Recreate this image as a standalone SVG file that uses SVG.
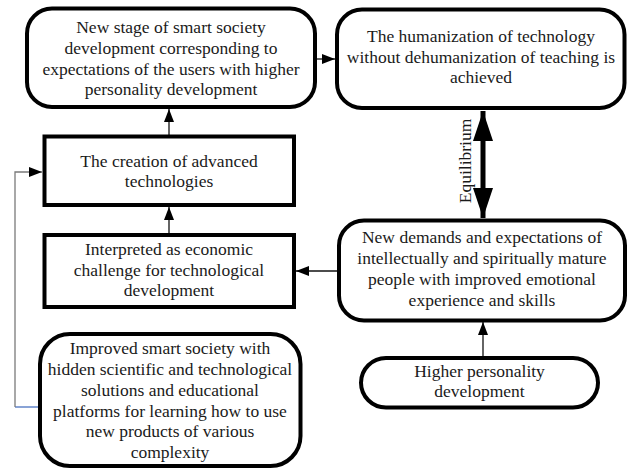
<svg xmlns="http://www.w3.org/2000/svg" width="628" height="470" viewBox="0 0 628 470">
  <style>
    .box { fill: #ffffff; stroke: #000000; stroke-width: 4; }
    text { font-family: 'Liberation Serif', 'Times New Roman', Times, 'DejaVu Serif', serif; }
    .lbl { font-size: 17.5px; fill: #1a1a1a; text-anchor: middle; }
    .conn { fill: none; stroke: #111111; stroke-width: 1.3; }
    .feed { fill: none; stroke: #7a7a7a; stroke-width: 1.3; }
    .feedb { fill: none; stroke: #4a72c0; stroke-width: 1.3; }
    .eq { fill: none; stroke: #000000; stroke-width: 5; }
  </style>
  <defs>
    <marker id="arr" markerUnits="userSpaceOnUse" markerWidth="13" markerHeight="10" refX="13" refY="5" orient="auto">
      <path d="M0,0 L13,5 L0,10 z" fill="#000000"/>
    </marker>
    <marker id="bigArr" markerUnits="userSpaceOnUse" markerWidth="30" markerHeight="20" refX="30" refY="10" orient="auto-start-reverse">
      <path d="M0,0 L30,10 L0,20 z" fill="#000000"/>
    </marker>
  </defs>

  <rect width="628" height="470" fill="#ffffff"/>

  <!-- connectors -->
  <g id="connectors">
    <line class="conn" x1="315" y1="59" x2="335" y2="59" marker-end="url(#arr)"/>
    <line class="conn" x1="169" y1="135" x2="169" y2="109" marker-end="url(#arr)"/>
    <line class="conn" x1="169" y1="233" x2="169" y2="207" marker-end="url(#arr)"/>
    <line class="conn" x1="338" y1="271" x2="296" y2="271" marker-end="url(#arr)"/>
    <line class="conn" x1="483" y1="356" x2="483" y2="322" marker-end="url(#arr)"/>
    <path class="feedb" d="M38,407 L15,407"/>
    <path class="feed" d="M15,407 L15,172 L42,172" marker-end="url(#arr)"/>
    <line class="eq" x1="483" y1="111" x2="483" y2="218" marker-start="url(#bigArr)" marker-end="url(#bigArr)"/>
    <text class="lbl" style="font-family: 'Liberation Serif', serif" transform="translate(471,161) rotate(-90)">Equilibrium</text>
  </g>

  <!-- nodes -->
  <g id="node-new-stage">
    <rect class="box" x="27" y="8.5" width="288" height="98.5" rx="25" ry="25"/>
    <text class="lbl" x="171" y="33">New stage of smart society</text>
    <text class="lbl" x="171" y="54">development corresponding to</text>
    <text class="lbl" x="171" y="75">expectations of the users  with higher</text>
    <text class="lbl" x="171" y="95">personality development</text>
  </g>

  <g id="node-humanization">
    <rect class="box" x="337" y="9.5" width="287.5" height="98.5" rx="25" ry="25"/>
    <text class="lbl" x="481" y="42">The humanization of technology</text>
    <text class="lbl" x="481" y="63">without dehumanization of teaching is</text>
    <text class="lbl" x="481" y="83">achieved</text>
  </g>

  <g id="node-creation">
    <rect class="box" x="44.5" y="136.5" width="249.5" height="68.5"/>
    <text class="lbl" x="169" y="166.5">The creation of advanced</text>
    <text class="lbl" x="169" y="187">technologies</text>
  </g>

  <g id="node-interpreted">
    <rect class="box" x="44.5" y="235" width="249.5" height="72"/>
    <text class="lbl" x="169" y="255">Interpreted as economic</text>
    <text class="lbl" x="169" y="276">challenge for technological</text>
    <text class="lbl" x="169" y="296">development</text>
  </g>

  <g id="node-improved">
    <rect class="box" x="40" y="334" width="260.5" height="132" rx="30" ry="30"/>
    <text class="lbl" x="170" y="354">Improved smart society with</text>
    <text class="lbl" x="170" y="375">hidden scientific and technological</text>
    <text class="lbl" x="170" y="396">solutions and educational</text>
    <text class="lbl" x="170" y="417">platforms for learning how to use</text>
    <text class="lbl" x="170" y="437">new products of various</text>
    <text class="lbl" x="170" y="458">complexity</text>
  </g>

  <g id="node-demands">
    <rect class="box" x="339" y="220.5" width="286" height="100" rx="25" ry="25"/>
    <text class="lbl" x="482" y="243">New demands and expectations of</text>
    <text class="lbl" x="482" y="264">intellectually and spiritually mature</text>
    <text class="lbl" x="482" y="285">people with improved emotional</text>
    <text class="lbl" x="482" y="306">experience and skills</text>
  </g>

  <g id="node-higher">
    <rect class="box" x="361" y="358" width="237" height="49.5" rx="25" ry="25"/>
    <text class="lbl" x="479.5" y="377">Higher personality</text>
    <text class="lbl" x="479.5" y="397">development</text>
  </g>
</svg>
